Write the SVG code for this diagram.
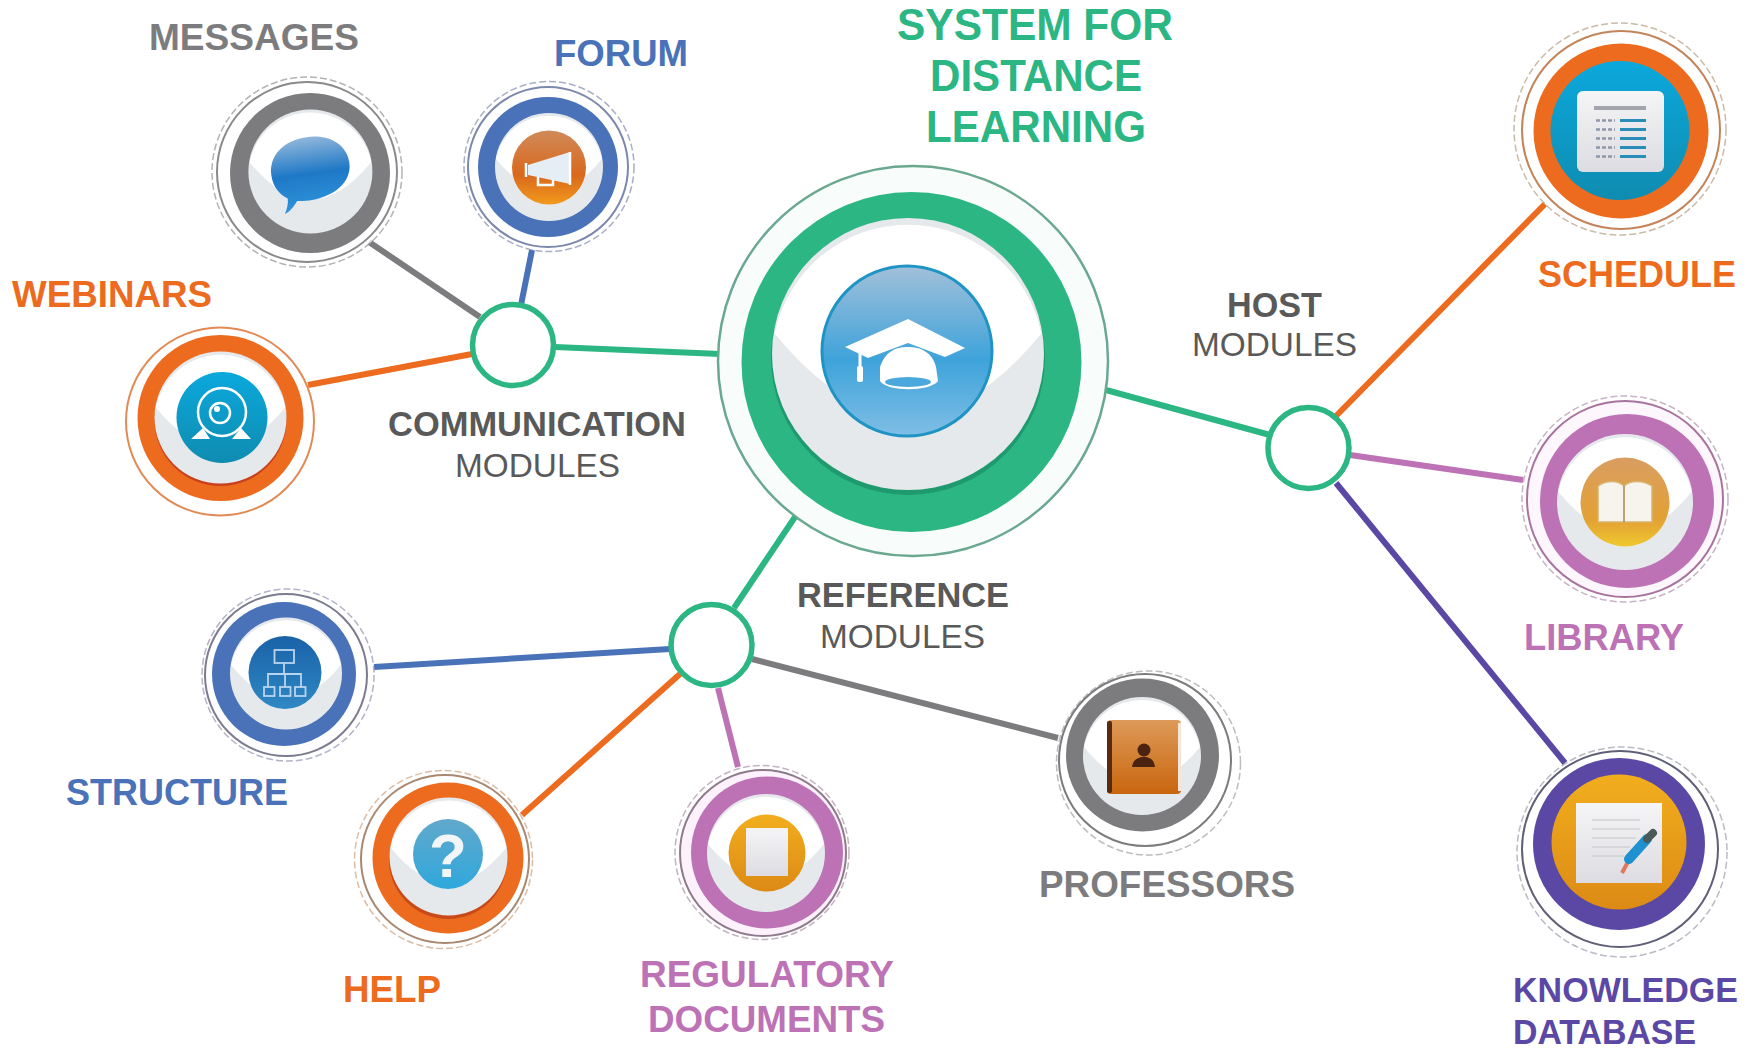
<svg xmlns="http://www.w3.org/2000/svg" width="1748" height="1052" viewBox="0 0 1748 1052">
<style>
text{font-family:"Liberation Sans",Arial,sans-serif;font-weight:700;font-size:37px}
.r{font-weight:400;font-size:34px;fill:#595959}
.d{fill:#595959;font-size:35px}
.t{fill:#2bb683;font-size:44px}
.k{font-size:35px;fill:#5a48a4}
.lk{fill:none;stroke-width:6}
.halo{fill:#fff;stroke-width:1.5;stroke-dasharray:7 3;opacity:.75}
.edge{fill:none;stroke-width:2}
.hub{fill:#fff;stroke:#2bb683;stroke-width:5.5}
.in{fill:#e6e9ec}
.w{fill:#fff}
.wl{fill:none;stroke:#fff;stroke-width:2.5}
.org{fill:none;stroke:#b8d4ee;stroke-width:1.8}
</style>
<defs>
<path id="gloss" d="M-.98-.15Q0 1.05.98-.15A1 1 0 0 0-.98-.15Z" fill="#fff"/>
<linearGradient id="gBlue" x1="0" y1="0" x2="0" y2="1"><stop offset="0" stop-color="#a2c0da"/><stop offset=".55" stop-color="#3ea3da"/><stop offset="1" stop-color="#7fbee6"/></linearGradient>
<linearGradient id="gBub" x1="0" y1="0" x2="0" y2="1"><stop offset="0" stop-color="#8fb6dc"/><stop offset=".5" stop-color="#1f78c6"/><stop offset="1" stop-color="#2f94dc"/></linearGradient>
<linearGradient id="gOr" x1="0" y1="0" x2="0" y2="1"><stop offset="0" stop-color="#d08a5a"/><stop offset=".6" stop-color="#d9681c"/><stop offset="1" stop-color="#f29a1c"/></linearGradient>
<linearGradient id="gCam" x1="0" y1="0" x2="0" y2="1"><stop offset="0" stop-color="#0ba8dc"/><stop offset="1" stop-color="#0f8cb0"/></linearGradient>
<linearGradient id="gGold" x1="0" y1="0" x2="0" y2="1"><stop offset="0" stop-color="#d99e62"/><stop offset=".7" stop-color="#e3a134"/><stop offset="1" stop-color="#efc82e"/></linearGradient>
<linearGradient id="gAmb" x1="0" y1="0" x2="0" y2="1"><stop offset="0" stop-color="#f2ae1e"/><stop offset="1" stop-color="#dc8a14"/></linearGradient>
<linearGradient id="gOrg" x1="0" y1="0" x2="0" y2="1"><stop offset="0" stop-color="#1a62a8"/><stop offset="1" stop-color="#2f88c4"/></linearGradient>
<linearGradient id="gQ" x1="0" y1="0" x2="0" y2="1"><stop offset="0" stop-color="#62a8cc"/><stop offset="1" stop-color="#2fa8dc"/></linearGradient>
<linearGradient id="gDoc" x1="0" y1="0" x2="0" y2="1"><stop offset="0" stop-color="#f5f5f6"/><stop offset="1" stop-color="#dcdce2"/></linearGradient>
<linearGradient id="gBook" x1="0" y1="0" x2="0" y2="1"><stop offset="0" stop-color="#dd9a58"/><stop offset="1" stop-color="#c9660f"/></linearGradient>
</defs>

<g id="connectors">
<line class="lk" stroke="#7c7c7f" x1="369" y1="242" x2="480" y2="317"/>
<line class="lk" stroke="#4a72b8" x1="532" y1="250" x2="521" y2="305"/>
<line class="lk" stroke="#ec6b1e" x1="308" y1="385" x2="472" y2="354"/>
<line class="lk" stroke="#2bb683" x1="555" y1="347" x2="720" y2="354"/>
<line class="lk" stroke="#2bb683" x1="1106" y1="390" x2="1270" y2="435"/>
<line class="lk" stroke="#2bb683" x1="795" y1="517" x2="734" y2="608"/>
<line class="lk" stroke="#ec6b1e" x1="1336" y1="416" x2="1545" y2="204"/>
<line class="lk" stroke="#bd72b6" x1="1350" y1="455" x2="1523" y2="480"/>
<line class="lk" stroke="#5a48a4" x1="1336" y1="483" x2="1565" y2="763"/>
<line class="lk" stroke="#4a72b8" x1="374" y1="667" x2="670" y2="649"/>
<line class="lk" stroke="#ec6b1e" x1="522" y1="815" x2="680" y2="674"/>
<line class="lk" stroke="#bd72b6" x1="718" y1="688" x2="738" y2="767"/>
<line class="lk" stroke="#7c7c7f" x1="752" y1="659" x2="1058" y2="738"/>
</g>

<g id="hub-communication"><circle class="hub" cx="513" cy="345" r="40.500"/></g>
<g id="hub-host"><circle class="hub" cx="1308.500" cy="448" r="40.500"/></g>
<g id="hub-reference"><circle class="hub" cx="711.500" cy="645" r="40.500"/></g>

<g id="node-main">
<circle cx="913" cy="361" r="195" fill="#f8fdfb" stroke="#6aa890" stroke-width="2.500"/>
<circle cx="911.500" cy="362" r="170" fill="#2bb683"/>
<circle cx="908" cy="358" r="137" fill="#1f9a6e"/>
<circle class="in" cx="908" cy="354" r="136"/>
<use href="#gloss" transform="translate(908 354) scale(136)"/>
<circle cx="907" cy="351" r="85" fill="url(#gBlue)" stroke="#1f94c4" stroke-width="3"/>
<path class="w" d="M845 347L908 319 965 348 945 357 908 343 868 358Z"/>
<path class="w" d="M880 367C885 352 895 347 907 347 921 347 932 352 936 367L938 381C930 392 887 392 880 381Z"/>
<ellipse cx="908" cy="382" rx="23" ry="5" fill="#4aa8dc"/>
<rect class="w" x="858.500" y="352" width="3" height="28"/>
<rect class="w" x="857" y="366" width="6" height="16" rx="2"/>
</g>

<g id="node-messages">
<circle class="halo" stroke="#9a9a9a" cx="307" cy="172" r="95"/>
<circle class="edge" stroke="#8a8a8c" cx="307" cy="172" r="90"/>
<circle cx="310" cy="173" r="80" fill="#7c7c7f"/>
<circle class="in" cx="310.400" cy="171.500" r="62"/>
<use href="#gloss" transform="translate(310.400 171.500) scale(62)"/>
<path transform="rotate(-8 310 170)" d="M271 170C271 150 288 137 311 137 334 137 350 150 350 168 350 188 330 200 305 200 300 200 296 199 293 199 289 204 284 209 279 210 282 205 284 200 284 195 276 190 271 181 271 170Z" fill="url(#gBub)"/>
</g>
<text x="149" y="50" textLength="210" lengthAdjust="spacingAndGlyphs" fill="#7c7c7f">MESSAGES</text>

<g id="node-forum">
<circle class="halo" stroke="#8c94b4" cx="549" cy="166.500" r="85"/>
<circle class="edge" stroke="#7c88ac" cx="548" cy="167" r="80"/>
<circle cx="548" cy="167" r="70" fill="#4a72b8"/>
<circle class="in" cx="549" cy="167" r="54"/>
<use href="#gloss" transform="translate(549 167) scale(54)"/>
<circle cx="549" cy="167.500" r="37" fill="url(#gOr)"/>
<path d="M528 165L570 152V184L528 175Z" fill="#e4eef4"/>
<path class="wl" d="M538 177V185H553V180M526 163V177M570 152V185" stroke-width="2"/>
</g>
<text x="554" y="66" textLength="134" lengthAdjust="spacingAndGlyphs" fill="#4a72b8">FORUM</text>

<g id="node-webinars">
<circle cx="220" cy="421.500" r="94" fill="#fff" stroke="#e28a55" stroke-width="2"/>
<circle cx="220.500" cy="418" r="83" fill="#ec6b1e"/>
<circle cx="220.500" cy="420" r="66" fill="#c8401c"/>
<circle class="in" cx="220.500" cy="417.500" r="66"/>
<use href="#gloss" transform="translate(220.500 417.500) scale(66)"/>
<circle cx="222" cy="417.500" r="45.500" fill="url(#gCam)"/>
<circle class="wl" cx="222" cy="412" r="24"/>
<circle class="wl" cx="220" cy="413" r="10"/>
<circle class="w" cx="217" cy="409" r="3"/>
<path class="w" d="M191 439L203 428 210 439ZM232 439L241 428 251 439Z"/>
</g>
<text x="12" y="307" textLength="200" lengthAdjust="spacingAndGlyphs" fill="#ec6b1e">WEBINARS</text>

<g id="node-schedule">
<circle class="halo" stroke="#b9a48c" cx="1620" cy="129" r="106"/>
<circle class="edge" stroke="#c4845a" cx="1621" cy="130" r="99"/>
<circle cx="1621" cy="131" r="87.500" fill="#ec6b1e"/>
<circle cx="1620" cy="130.500" r="69.500" fill="url(#gCam)"/>
<rect x="1577" y="91" width="87" height="81" rx="6" fill="url(#gDoc)"/>
<rect x="1594" y="106" width="52" height="4" fill="#a4a4ac"/>
<path d="M1620 120.500H1646M1620 129.500H1646M1620 138.500H1646M1620 147.500H1646M1620 156.500H1646" stroke="#2a8db8" stroke-width="3"/>
<path d="M1596 120.500H1615M1596 129.500H1615M1596 138.500H1615M1596 147.500H1615M1596 156.500H1615" stroke="#8f98a8" stroke-width="2.500" stroke-dasharray="4 2"/>
</g>
<text x="1538" y="287" textLength="198" lengthAdjust="spacingAndGlyphs" fill="#ec6b1e">SCHEDULE</text>

<g id="node-library">
<circle class="halo" stroke="#b79ab4" cx="1625" cy="499" r="103"/>
<circle cx="1625" cy="499" r="98" fill="#fdf6fc" stroke="#a8749f" stroke-width="2"/>
<circle cx="1627" cy="501" r="87" fill="#bd72b6"/>
<circle class="in" cx="1625" cy="502" r="68"/>
<use href="#gloss" transform="translate(1625 502) scale(68)"/>
<circle cx="1625" cy="502" r="44.500" fill="url(#gGold)"/>
<path d="M1598 486C1606 480 1618 480 1624 486 1630 480 1643 480 1652 486V522H1598Z" fill="#f6f4ec" stroke="#d8b36e" stroke-width="1.500"/>
<path d="M1624 486V522" stroke="#a88a50" stroke-width="1.500"/>
</g>
<text x="1524" y="650" textLength="160" lengthAdjust="spacingAndGlyphs" fill="#bd72b6">LIBRARY</text>

<g id="node-knowledge">
<circle class="halo" stroke="#a4a4b4" cx="1622" cy="852" r="105"/>
<circle cx="1620" cy="849" r="98" fill="#fff" stroke="#5f5f78" stroke-width="2"/>
<circle cx="1619" cy="844" r="86" fill="#5a48a4"/>
<circle cx="1619" cy="842" r="67.500" fill="url(#gAmb)"/>
<rect x="1576" y="803" width="86" height="80" fill="url(#gDoc)"/>
<path d="M1592 820H1640M1592 829H1640M1592 838H1636M1592 847H1630M1592 856H1624" stroke="#cfd2d6" stroke-width="1.500"/>
<path d="M1622 873L1630 858" stroke="#e07860" stroke-width="4"/>
<path d="M1629 859L1647 839" stroke="#1f90d0" stroke-width="10" stroke-linecap="round"/>
<path d="M1647 839L1653 833" stroke="#4a5a58" stroke-width="8" stroke-linecap="round"/>
</g>
<text class="k" x="1513" y="1002" textLength="225" lengthAdjust="spacingAndGlyphs">KNOWLEDGE</text>
<text class="k" x="1513" y="1044" textLength="183" lengthAdjust="spacingAndGlyphs">DATABASE</text>

<g id="node-structure">
<circle class="halo" stroke="#9a9ab8" cx="288" cy="675" r="86"/>
<circle class="edge" stroke="#7c7c90" cx="286" cy="675" r="81"/>
<circle cx="284" cy="674" r="72" fill="#4a72b8"/>
<circle class="in" cx="286" cy="673.500" r="56"/>
<use href="#gloss" transform="translate(286 673.500) scale(56)"/>
<circle cx="285" cy="672.500" r="36.500" fill="url(#gOrg)"/>
<rect class="org" x="274.500" y="650" width="19.500" height="13"/>
<path class="org" d="M284 663V674M268 687V674H301V687M285 674V687"/>
<rect class="org" x="264" y="687" width="10.500" height="9"/>
<rect class="org" x="280" y="687" width="10.500" height="9"/>
<rect class="org" x="295" y="687" width="10.500" height="9"/>
</g>
<text x="66" y="805" textLength="222" lengthAdjust="spacingAndGlyphs" fill="#4a72b8">STRUCTURE</text>

<g id="node-help">
<circle class="halo" stroke="#d0a888" cx="443.500" cy="859.500" r="89"/>
<circle class="edge" stroke="#a88870" cx="445" cy="859" r="84"/>
<circle cx="448" cy="858" r="75.500" fill="#ec6b1e"/>
<circle cx="448" cy="860" r="59" fill="#c84a18"/>
<circle class="in" cx="448.500" cy="856.500" r="59"/>
<use href="#gloss" transform="translate(448.500 856.500) scale(59)"/>
<circle cx="448" cy="854" r="35" fill="url(#gQ)"/>
<text x="448" y="877" text-anchor="middle" fill="#f2f6f8" style="font-size:62px">?</text>
</g>
<text x="343" y="1002" textLength="98" lengthAdjust="spacingAndGlyphs" fill="#ec6b1e">HELP</text>

<g id="node-regulatory">
<circle class="halo" stroke="#b09aac" cx="762" cy="852.500" r="87"/>
<circle cx="763" cy="853" r="83" fill="#fdf2fc" stroke="#8f7a8c" stroke-width="2"/>
<circle cx="767" cy="852.500" r="76" fill="#bd72b6"/>
<circle class="in" cx="766" cy="853" r="59"/>
<use href="#gloss" transform="translate(766 853) scale(59)"/>
<circle cx="767" cy="853" r="38.500" fill="url(#gAmb)"/>
<rect x="746" y="828" width="42" height="48" fill="url(#gDoc)"/>
</g>
<text x="640" y="987" textLength="254" lengthAdjust="spacingAndGlyphs" fill="#bd72b6">REGULATORY</text>
<text x="648" y="1032" textLength="237" lengthAdjust="spacingAndGlyphs" fill="#bd72b6">DOCUMENTS</text>

<g id="node-professors">
<circle class="halo" stroke="#a8a8a8" cx="1148.500" cy="763" r="92"/>
<circle class="edge" stroke="#7c7c7f" cx="1145" cy="760" r="86"/>
<circle cx="1142.500" cy="755" r="76.500" fill="#7c7c7f"/>
<circle class="in" cx="1142" cy="756" r="59"/>
<use href="#gloss" transform="translate(1142 756) scale(59)"/>
<rect x="1107" y="720" width="74" height="74" rx="4" fill="url(#gBook)"/>
<rect x="1107" y="721" width="5" height="72" rx="2" fill="#5a2a10"/>
<rect x="1178" y="723" width="3" height="68" fill="#f4e6d8"/>
<circle cx="1144" cy="750" r="6.500" fill="#4a2410"/>
<path d="M1132 767C1133 759 1139 757 1144 757 1149 757 1154 759 1155 767Z" fill="#4a2410"/>
</g>
<text x="1039" y="897" textLength="256" lengthAdjust="spacingAndGlyphs" fill="#7c7c7f">PROFESSORS</text>

<text class="t" x="897" y="40" textLength="276" lengthAdjust="spacingAndGlyphs">SYSTEM FOR</text>
<text class="t" x="930" y="91" textLength="212" lengthAdjust="spacingAndGlyphs">DISTANCE</text>
<text class="t" x="926" y="142" textLength="220" lengthAdjust="spacingAndGlyphs">LEARNING</text>

<text class="d" x="388" y="435.500" textLength="298" lengthAdjust="spacingAndGlyphs">COMMUNICATION</text>
<text class="r" x="455" y="477" textLength="165" lengthAdjust="spacingAndGlyphs">MODULES</text>
<text class="d" x="1227" y="317" textLength="95" lengthAdjust="spacingAndGlyphs">HOST</text>
<text class="r" x="1192" y="356" textLength="165" lengthAdjust="spacingAndGlyphs">MODULES</text>
<text class="d" x="797" y="607" textLength="212" lengthAdjust="spacingAndGlyphs">REFERENCE</text>
<text class="r" x="820" y="648" textLength="165" lengthAdjust="spacingAndGlyphs">MODULES</text>
</svg>
